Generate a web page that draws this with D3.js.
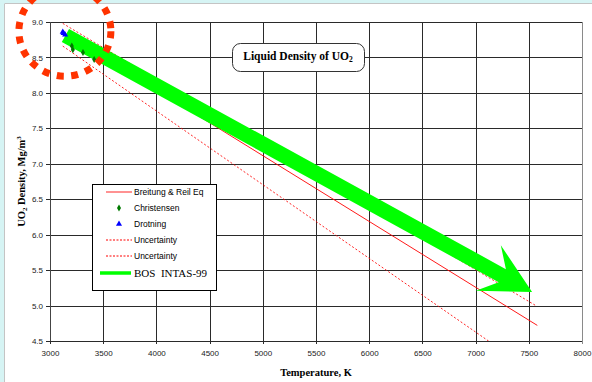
<!DOCTYPE html>
<html>
<head>
<meta charset="utf-8">
<script src="https://cdn.jsdelivr.net/npm/d3@7"></script>
<style>
  html, body { margin: 0; padding: 0; background: #fff; }
  svg { display: block; }
</style>
</head>
<body>
<svg id="chart" width="592" height="382"></svg>
<script>
// ---------------- data ----------------
const xTicks = [3000, 3500, 4000, 4500, 5000, 5500, 6000, 6500, 7000, 7500, 8000];
const yTicks = [4.5, 5.0, 5.5, 6.0, 6.5, 7.0, 7.5, 8.0, 8.5, 9.0];

const breitungT = [3120, 7580];
const breitungRho = [8.86, 4.72];

const uncUpperT = [3120, 7565];
const uncUpperRho = [8.98, 5.00];

const uncLowerT = [3120, 7160];
const uncLowerRho = [8.66, 4.46];

const christensenT = [3205, 3215, 3310, 3415];
const christensenRho = [8.66, 8.61, 8.57, 8.47];

const drotningT = [3120, 3128, 3142];
const drotningRho = [8.86, 8.84, 8.82];

// annotation arrow (BOS INTAS-99) tail and tip, data units
const arrowT = [3145, 7531];
const arrowRho = [8.81, 5.19];

// highlight circle centre, data units
const circleT = [3140];
const circleRho = [8.87];

const legendLabels = ["Breitung & Reil Eq", "Christensen", "Drotning", "Uncertainty", "Uncertainty", "BOS  INTAS-99"];

// ---------------- layout ----------------
const svg = d3.select("#chart");
const W = 592, H = 382;
const plot = { left: 50, right: 582, top: 22, bottom: 341 };

const x = d3.scaleLinear().domain([3000, 8000]).range([plot.left, plot.right]);
const y = d3.scaleLinear().domain([4.5, 9.0]).range([plot.bottom, plot.top]);

const RED = "#ff0000", GREEN = "#00ff00";
const sans = "'Liberation Sans', Arial, sans-serif";
const serif = "'Liberation Serif', 'Times New Roman', serif";

// background frame
svg.append("rect").attr("width", W).attr("height", H).attr("fill", "#d6f4f4");
svg.append("rect").attr("x", 5).attr("y", 4).attr("width", W - 5).attr("height", H - 4).attr("fill", "#ffffff");
svg.append("line").attr("x1", 4.5).attr("x2", 4.5).attr("y1", 4).attr("y2", H).attr("stroke", "#c4c4c4").attr("stroke-width", 1);
svg.append("line").attr("x1", 4.5).attr("x2", W).attr("y1", 3.5).attr("y2", 3.5).attr("stroke", "#c4c4c4").attr("stroke-width", 1);

// clip
svg.append("defs").append("clipPath").attr("id", "clip")
  .append("rect").attr("x", plot.left).attr("y", plot.top)
  .attr("width", plot.right - plot.left).attr("height", plot.bottom - plot.top);

// grid
const grid = svg.append("g");
grid.selectAll("line.v").data(xTicks).join("line")
  .attr("x1", d => Math.round(x(d)) + 0.5).attr("x2", d => Math.round(x(d)) + 0.5)
  .attr("y1", plot.top).attr("y2", plot.bottom + 3)
  .attr("stroke", d => d === 8000 ? "#8a8a8a" : "#2a2a2a").attr("stroke-width", 1);
grid.selectAll("line.h").data(yTicks).join("line")
  .attr("x1", plot.left - 4).attr("x2", plot.right)
  .attr("y1", d => Math.round(y(d)) + 0.5).attr("y2", d => Math.round(y(d)) + 0.5)
  .attr("stroke", "#2a2a2a").attr("stroke-width", 1);

// axes using d3 axis generators for labels
const xAxis = d3.axisBottom(x).tickValues(xTicks).tickFormat(d3.format("d")).tickSize(0).tickPadding(9);
const yAxis = d3.axisLeft(y).tickValues(yTicks).tickFormat(d3.format(".1f")).tickSize(0).tickPadding(7);

const gx = svg.append("g").attr("transform", `translate(0,${plot.bottom})`).call(xAxis);
const gy = svg.append("g").attr("transform", `translate(${plot.left},0)`).call(yAxis);
[gx, gy].forEach(g => {
  g.select(".domain").remove();
  g.selectAll("text").attr("font-family", sans).attr("font-size", 8).attr("fill", "#1a1a1a");
});
svg.append("line").attr("x1", plot.left + 0.5).attr("x2", plot.left + 0.5)
  .attr("y1", plot.top).attr("y2", plot.bottom).attr("stroke", "#444").attr("stroke-width", 1);

// axis titles
svg.append("text").attr("x", (plot.left + plot.right) / 2).attr("y", 376)
  .attr("text-anchor", "middle").attr("font-family", serif).attr("font-weight", "bold")
  .attr("font-size", 10.5).attr("fill", "#000").text("Temperature, K");

const yt = svg.append("text")
  .attr("transform", `translate(25,${(plot.top + plot.bottom) / 2}) rotate(-90)`)
  .attr("text-anchor", "middle").attr("font-family", serif).attr("font-weight", "bold")
  .attr("font-size", 10.5).attr("fill", "#000");
yt.append("tspan").text("UO");
yt.append("tspan").attr("font-size", 7).attr("dy", 2).text("2");
yt.append("tspan").attr("dy", -2).text(" Density, Mg/m");
yt.append("tspan").attr("font-size", 7).attr("dy", -4).text("3");

// series lines
const lineGen = d3.line().x(d => x(d[0])).y(d => y(d[1]));
const series = svg.append("g").attr("clip-path", "url(#clip)");
series.append("path").datum(d3.zip(uncUpperT, uncUpperRho)).attr("d", lineGen)
  .attr("fill", "none").attr("stroke", RED).attr("stroke-width", 1).attr("stroke-dasharray", "2,2").attr("opacity", 0.85);
series.append("path").datum(d3.zip(uncLowerT, uncLowerRho)).attr("d", lineGen)
  .attr("fill", "none").attr("stroke", RED).attr("stroke-width", 1).attr("stroke-dasharray", "2,2").attr("opacity", 0.85);
series.append("path").datum(d3.zip(breitungT, breitungRho)).attr("d", lineGen)
  .attr("fill", "none").attr("stroke", RED).attr("stroke-width", 1).attr("opacity", 0.9);

// big green arrow annotation
(function () {
  const x0 = x(arrowT[0]), y0 = y(arrowRho[0]), x1 = x(arrowT[1]), y1 = y(arrowRho[1]);
  const len = Math.hypot(x1 - x0, y1 - y0);
  const ang = Math.atan2(y1 - y0, x1 - x0) * 180 / Math.PI;
  const w = 7.5, join = 34, back = 50, hw = 26;
  const pts = [[-len, -w], [-join, -w], [-back, -hw], [0, 0], [-back, hw], [-join, w], [-len, w]];
  svg.append("path")
    .attr("d", "M" + pts.map(p => p.join(",")).join("L") + "Z")
    .attr("transform", `translate(${x1},${y1}) rotate(${ang})`)
    .attr("fill", GREEN);
})();

// markers
const diamond = d3.symbol().type(d3.symbolDiamond).size(14);
const tri = d3.symbol().type(d3.symbolTriangle).size(16);
svg.append("g").selectAll("path").data(d3.zip(christensenT, christensenRho)).join("path")
  .attr("d", diamond).attr("transform", d => `translate(${x(d[0])},${y(d[1])})`).attr("fill", "#007a00");
svg.append("g").selectAll("path").data(d3.zip(drotningT, drotningRho)).join("path")
  .attr("d", tri).attr("transform", d => `translate(${x(d[0])},${y(d[1])})`).attr("fill", "#0000ff");

// dotted highlight circle
svg.append("ellipse").attr("cx", x(circleT[0])).attr("cy", y(circleRho[0]))
  .attr("rx", 46).attr("ry", 45)
  .attr("fill", "none").attr("stroke", "#ff3300").attr("stroke-width", 7)
  .attr("stroke-dasharray", "7,7.5");

// title box
svg.append("rect").attr("x", 232.5).attr("y", 43.5).attr("width", 132).attr("height", 28).attr("rx", 8)
  .attr("fill", "#fff").attr("stroke", "#333").attr("stroke-width", 1);
const tt = svg.append("text").attr("x", 298).attr("y", 59.5).attr("text-anchor", "middle")
  .attr("font-family", serif).attr("font-weight", "bold").attr("font-size", 11.5).attr("fill", "#000");
tt.append("tspan").text("Liquid Density of UO");
tt.append("tspan").attr("font-size", 7.5).attr("dy", 2.5).text("2");

// legend
const lg = svg.append("g");
lg.append("rect").attr("x", 92.5).attr("y", 184.5).attr("width", 124).attr("height", 106)
  .attr("fill", "#fff").attr("stroke", "#000").attr("stroke-width", 1);
const rowY = [192, 208, 224, 240, 256, 273];
legendLabels.forEach((lab, i) => {
  const yy = rowY[i];
  if (i === 0) {
    lg.append("line").attr("x1", 106).attr("x2", 132).attr("y1", yy).attr("y2", yy).attr("stroke", RED).attr("stroke-width", 1).attr("opacity", 0.85);
  } else if (i === 1) {
    lg.append("path").attr("d", diamond).attr("transform", `translate(119,${yy})`).attr("fill", "#007a00");
  } else if (i === 2) {
    lg.append("path").attr("d", tri).attr("transform", `translate(119,${yy})`).attr("fill", "#0000ff");
  } else if (i === 3 || i === 4) {
    lg.append("line").attr("x1", 106).attr("x2", 132).attr("y1", yy).attr("y2", yy).attr("stroke", RED).attr("stroke-width", 1).attr("stroke-dasharray", "2,1.5");
  } else {
    lg.append("line").attr("x1", 100).attr("x2", 131).attr("y1", yy).attr("y2", yy).attr("stroke", GREEN).attr("stroke-width", 3.5);
  }
  const t = lg.append("text").attr("x", 134).attr("y", yy).attr("dy", "0.35em")
    .attr("fill", "#000").style("white-space", "pre").text(lab);
  if (i === 5) t.attr("font-family", serif).attr("font-size", 11);
  else t.attr("font-family", sans).attr("font-size", 8.5);
});
</script>
</body>
</html>
